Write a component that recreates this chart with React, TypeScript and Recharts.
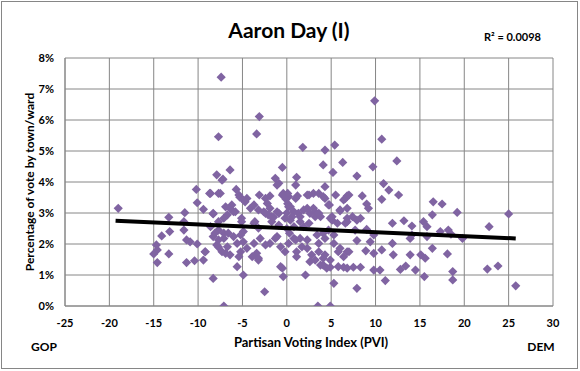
import React from "react";
import { ScatterChart, Scatter, XAxis, YAxis, CartesianGrid } from "recharts";

// Each town/ward: [Partisan Voting Index, % of vote for Aaron Day]
const gopTowns: [number, number][] = [
  [-19.0, 3.15], [-10.2, 3.76], [-8.7, 3.63], [-7.7, 3.63], [-10.1, 3.33], [-9.4, 3.12], [-8.3, 2.97], [-11.5, 3.01],
  [-13.3, 2.86], [-11.6, 2.72], [-13.2, 2.4], [-14.1, 2.26], [-11.6, 2.45], [-11.3, 2.13], [-10.9, 2.07], [-10.1, 2.0],
  [-14.7, 1.97], [-14.6, 1.81], [-15.0, 1.68], [-13.3, 1.68], [-14.6, 1.4], [-9.2, 1.75], [-9.4, 1.48], [-11.3, 1.4],
  [-10.4, 1.46], [-8.3, 0.89], [-7.7, 1.9],
];

const highTowns: [number, number][] = [
  [-7.4, 7.38], [-3.1, 6.11], [-3.4, 5.55], [-7.7, 5.46], [1.8, 5.12], [4.3, 5.03], [4.1, 4.55], [-6.4, 4.39],
  [-7.9, 4.23], [-7.2, 4.09], [-0.5, 4.47], [-1.3, 4.12], [-0.9, 3.96], [1.1, 4.15],
  [9.9, 6.62], [10.7, 5.38], [5.4, 5.19], [6.3, 4.63], [5.2, 4.31], [7.9, 4.19], [9.7, 4.49], [12.4, 4.68],
];

const demTowns: [number, number][] = [
  [16.5, 3.36], [17.5, 3.29], [16.4, 2.94], [19.2, 3.02], [25.0, 2.97], [22.8, 2.56], [17.3, 2.4], [18.2, 2.45],
  [18.5, 2.32], [19.8, 2.18], [16.4, 1.86], [18.1, 1.68], [18.7, 1.11], [18.7, 0.84], [22.6, 1.19], [23.8, 1.29],
  [25.8, 0.65],
  [11.5, 3.74], [12.6, 3.58], [10.7, 3.44], [8.5, 3.55], [6.8, 3.55], [6.4, 3.42], [9.0, 3.29], [9.2, 3.15],
  [4.8, 3.26], [4.1, 3.53], [6.0, 3.07], [4.9, 2.83], [6.8, 2.72], [7.4, 2.88], [7.9, 2.77], [8.3, 2.83],
  [11.9, 2.67], [13.2, 2.75], [14.1, 2.58], [15.4, 2.72], [15.8, 2.56], [9.0, 2.47], [9.8, 2.29], [9.4, 2.07],
  [7.7, 2.45], [7.9, 2.11], [5.3, 2.02], [6.0, 1.86], [6.8, 1.75], [8.9, 1.78], [9.8, 1.7], [10.7, 1.81],
  [11.9, 2.02], [12.0, 1.65], [13.9, 2.18], [13.9, 1.65], [15.1, 1.65], [15.6, 1.54], [14.1, 2.29], [15.8, 2.24],
  [4.1, 1.54], [4.9, 1.25], [6.4, 1.25], [7.5, 1.25], [8.3, 1.25], [9.8, 1.16], [10.5, 1.16], [12.8, 1.18],
  [13.4, 1.29], [14.5, 1.16], [15.5, 0.95], [11.1, 0.82], [5.3, 0.73], [7.9, 0.57], [4.9, 0.0], [10.9, 3.95],
];

const centerTowns: [number, number][] = [
  [-7.3, 4.06], [-1.1, 3.9], [-7.5, 3.63], [-8.6, 3.63], [4.3, 3.85], [1.0, 3.9],
  [-5.7, 3.76], [-5.3, 3.51], [-4.5, 3.47], [-4.7, 3.36], [-3.1, 3.58], [-2.4, 3.47], [-2.2, 3.31], [-0.4, 3.63],
  [0.2, 3.53], [1.0, 3.47], [2.3, 3.58], [3.0, 3.63], [3.6, 3.63], [4.3, 3.47], [6.6, 3.47], [7.0, 3.58], [5.5, 3.58],
  [-8.3, 2.99], [-6.9, 3.2], [-6.2, 3.26], [-6.0, 3.04], [-6.7, 2.94], [-4.1, 3.15], [-3.7, 3.26], [-3.2, 3.1],
  [-2.4, 2.99], [-1.9, 3.15], [-1.7, 2.88], [-1.1, 3.04], [0.2, 3.2], [0.8, 3.04], [0.6, 2.88], [1.3, 2.99],
  [1.5, 2.88], [2.3, 3.15], [2.6, 2.99], [3.2, 3.04], [3.2, 2.88], [3.8, 2.88], [4.7, 3.26], [5.1, 2.88],
  [6.0, 3.1], [6.8, 3.15], [6.8, 2.83],
  [-8.6, 2.56], [-7.7, 2.45], [-7.1, 2.35], [-5.1, 2.83], [-4.9, 2.4], [-3.7, 2.67], [-3.2, 2.51], [-1.7, 2.72],
  [-0.9, 2.61], [-0.2, 2.83], [0.4, 2.77], [0.8, 2.56], [1.5, 2.72], [1.9, 2.56], [2.5, 2.67], [3.4, 2.29],
  [4.1, 2.35], [4.7, 2.45], [5.3, 2.29], [5.1, 2.77], [5.7, 2.67], [6.6, 2.67],
  [-9.2, 1.75], [-7.9, 1.97], [-7.3, 1.75], [-6.7, 1.91], [-6.4, 1.65], [-5.6, 2.02], [-5.2, 1.75], [-4.5, 1.86],
  [-3.9, 1.59], [-3.4, 1.7], [-3.2, 1.48], [-8.3, 2.24], [-7.7, 2.13], [-7.1, 2.18], [-6.0, 2.24], [-1.9, 2.02],
  [-1.3, 2.18], [-0.7, 1.91], [-0.2, 1.75], [0.2, 2.02], [1.1, 1.75], [1.7, 1.91], [2.3, 1.86], [2.8, 1.65],
  [3.6, 1.75], [4.3, 1.65], [4.9, 1.48], [5.8, 1.75], [6.4, 1.59], [7.0, 1.75], [3.2, 1.48], [3.8, 1.32],
  [0.8, 2.18], [1.5, 2.18], [-0.7, 1.27], [5.8, 1.27], [6.8, 1.22],
  [-7.1, 2.83], [-7.7, 2.72], [-3.6, 2.72], [-5.1, 2.72], [-5.4, 1.59], [-2.6, 3.04], [-2.1, 2.94], [-1.5, 2.86],
  [-0.9, 2.99], [0.4, 3.2], [1.9, 3.1], [3.0, 3.15], [3.6, 2.99], [-5.8, 3.04], [-6.4, 3.15], [-5.4, 3.58],
  [-4.9, 3.42], [-1.9, 3.55], [-0.5, 3.58], [0.1, 3.63], [1.2, 3.55], [2.5, 3.58],
  [-8.1, 2.35], [-6.6, 2.35], [-5.2, 2.29], [-4.9, 2.07], [-3.7, 2.02], [-3.0, 2.18], [-2.4, 1.97], [-1.1, 2.24],
  [1.0, 2.13], [2.3, 2.13], [3.6, 2.02], [4.3, 2.18], [-6.9, 1.7], [-3.2, 1.54], [1.1, 1.59], [2.6, 1.43],
  [4.1, 1.32], [4.5, 1.22], [0.0, 2.5], [0.1, 3.3], [-0.1, 3.45], [0.0, 3.0], [0.3, 2.35],
];

const lowTowns: [number, number][] = [
  [-5.6, 1.27], [-4.9, 1.0], [-0.5, 1.22], [-0.4, 0.95], [2.1, 1.0], [-2.5, 0.46], [-7.1, 0.0], [3.5, 0.0],
];

// Linear trendline end points
const trendPvi: number[] = [-19.3, 25.8];
const trendShare: number[] = [2.75, 2.18];

const xTicks: number[] = [-25, -20, -15, -10, -5, 0, 5, 10, 15, 20, 25, 30];
const yTicks: number[] = [0, 1, 2, 3, 4, 5, 6, 7, 8];

const points = [...gopTowns, ...highTowns, ...demTowns, ...centerTowns, ...lowTowns].map(([x, y]) => ({ x, y }));
const trend = trendPvi.map((x, i) => ({ x, y: trendShare[i] }));

const FONT = "Lato, 'Open Sans', sans-serif";
const GRID = "#868686";

const Diamond = (props: any) => {
  const { cx, cy } = props;
  if (cx == null || cy == null) return <g />;
  const r = 4.6;
  return (
    <polygon
      points={`${cx},${cy - r} ${cx + r},${cy} ${cx},${cy + r} ${cx - r},${cy}`}
      fill="#8064A2"
    />
  );
};

const Nothing = () => <g />;

export default function App() {
  return (
    <div style={{ position: "absolute", left: 0, top: 0, width: 580, height: 371, background: "#fff" }}>
      <ScatterChart
        width={580}
        height={371}
        margin={{ top: 58, right: 27, bottom: 35, left: 25 }}
      >
        <CartesianGrid stroke={GRID} strokeWidth={1} />
        <XAxis
          type="number"
          dataKey="x"
          domain={[-25, 30]}
          ticks={xTicks}
          interval={0}
          height={30}
          axisLine={{ stroke: GRID }}
          tickLine={false}
          tickMargin={7}
          tick={{ fontFamily: FONT, fontSize: 11, fontWeight: 700, fill: "#000" }}
          allowDataOverflow
        />
        <YAxis
          type="number"
          dataKey="y"
          domain={[0, 8]}
          ticks={yTicks}
          interval={0}
          width={40}
          axisLine={{ stroke: GRID }}
          tickLine={false}
          tickMargin={5}
          tickFormatter={(v: number) => `${v}%`}
          tick={{ fontFamily: FONT, fontSize: 11, fontWeight: 700, fill: "#000" }}
          allowDataOverflow
        />
        <Scatter data={points} shape={Diamond} isAnimationActive={false} />
        <Scatter
          data={trend}
          shape={Nothing}
          line={{ stroke: "#000", strokeWidth: 4 }}
          lineType="joint"
          isAnimationActive={false}
        />
      </ScatterChart>
      <svg
        width={580}
        height={371}
        style={{ position: "absolute", left: 0, top: 0, pointerEvents: "none" }}
      >
        <rect x={1.5} y={1.5} width={576} height={367} fill="none" stroke={GRID} strokeWidth={1} />
        <text x={289} y={38} textAnchor="middle" fontFamily={FONT} fontSize={21} fontWeight={700} fill="#000">
          Aaron Day (I)
        </text>
        <text x={484} y={41} fontFamily={FONT} fontSize={11} fontWeight={700} fill="#000">
          R² = 0.0098
        </text>
        <text x={311} y={347} textAnchor="middle" fontFamily={FONT} fontSize={13} fontWeight={700} fill="#000">
          Partisan Voting Index (PVI)
        </text>
        <text x={44} y={351} textAnchor="middle" fontFamily={FONT} fontSize={12} fontWeight={700} fill="#000">
          GOP
        </text>
        <text x={541} y={351} textAnchor="middle" fontFamily={FONT} fontSize={12} fontWeight={700} fill="#000">
          DEM
        </text>
        <text
          x={34}
          y={182}
          textAnchor="middle"
          transform="rotate(-90 34 182)"
          fontFamily={FONT}
          fontSize={12}
          fontWeight={700}
          fill="#000"
        >
          Percentage of vote by town/ward
        </text>
      </svg>
    </div>
  );
}
